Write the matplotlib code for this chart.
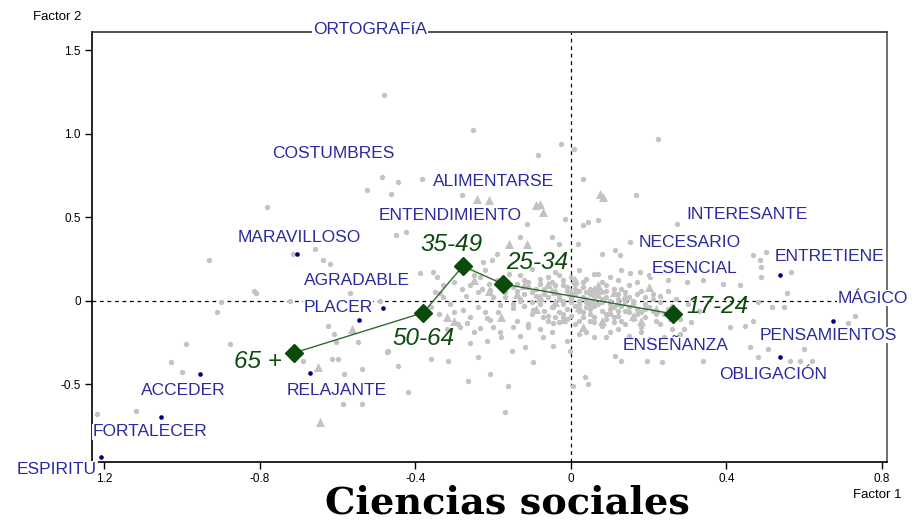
import matplotlib
matplotlib.use("Agg")
import matplotlib.pyplot as plt

# ---------------- data ----------------
# background words (grey dots)
bg_f1 = [-0.481, -0.486, -0.445, -0.383, -0.525, -0.463, -0.782, -0.45, -0.424, -0.931, -0.715, -0.658, -0.638, -0.62,
         -0.252, -0.026, -0.085, 0.008, 0.224, 0.031, 0.167, -0.015, 0.031, 0.044, 0.07, -0.13, -0.05, -0.03, 0.272, 0.018,
         0.152, 0.08, 0.126, 0.113, 0.468, 0.502, 0.486, 0.489, 0.566, 0.49, 0.556, 0.177, 0.152, 0.203, 0.39, 0.435, 0.339, 0.298,
         0.48, 0.516, 0.547, 0.73, 0.713, 0.468, 0.447, 0.46, 0.507, 0.48, 0.563, 0.59, 0.62, 0.60, 0.41, 0.34, 0.29, 0.234,
         0.195, 0.13, 0.113, 0.036, 0.044, 0.005,
         -0.445, -0.36, -0.316, -0.265, -0.42, -0.17, -0.162, -0.208, -0.24, -0.47, -0.097, -0.046, -0.003,
         -0.91, -0.99, -0.877, -1.03, -1.0, -1.22, -1.12, -0.625, -0.61, -0.605, -0.548, -0.473, -0.69, -0.615, -0.6,
         -0.584, -0.538, -0.586, -0.538,
         -0.815, -0.81, -0.90, -0.723, -0.568, -0.49, -0.28, -0.113, -0.19, -0.203, -0.227,
         -0.234, -0.208, -0.345, -0.337, -0.33, -0.388, -0.355,
         -0.152, -0.118, -0.072, -0.11, -0.149, -0.183, -0.216, -0.26, -0.285, -0.268, -0.234, -0.216, -0.278, -0.208,
         -0.188, -0.183, -0.149, -0.131, -0.098, -0.072, -0.046, -0.021, -0.046,
         -0.10, -0.04, 0.02, 0.06, -0.13,
         -0.12, -0.08, -0.05, -0.02, 0.01, 0.04, 0.08, 0.12, 0.15,
         -0.14, -0.11, -0.07, -0.04, -0.01, 0.02, 0.05, 0.08, 0.11, 0.14, 0.18, 0.21,
         -0.13, -0.09, -0.06, -0.03, 0.0, 0.03, 0.06, 0.09, 0.12, 0.16, 0.19, 0.23,
         -0.12, -0.08, -0.05, -0.02, 0.01, 0.04, 0.07, 0.10, 0.13, 0.17, 0.20, 0.25,
         -0.10, -0.06, -0.03, 0.0, 0.03, 0.06, 0.09, 0.12, 0.15, 0.19, 0.22, 0.28,
         -0.03, 0.01, 0.05, 0.08, 0.11, 0.14, 0.18, 0.23, 0.26,
         0.02, 0.06, 0.10, 0.15, 0.20, -0.01,
         -0.22, -0.25, -0.16, -0.19, -0.23, -0.30, -0.35, -0.27, -0.20, -0.17, -0.31,
         -0.02, 0.0, 0.02, 0.04, 0.06, 0.08, 0.10, 0.01, -0.01, 0.03, 0.05, 0.07, 0.09, -0.04, -0.07, -0.10, -0.08,
         -0.11, -0.14, -0.06, -0.03, 0.00, 0.03,
         -0.01, 0.02, 0.05, 0.08, 0.11, 0.14, 0.16, 0.18, 0.21, 0.24, 0.26, 0.22, 0.16, 0.13, 0.09, 0.06, 0.03,
         -0.01, -0.04, -0.07, -0.10, -0.15, -0.17,
         -0.15, -0.18, -0.21, -0.24, -0.26, -0.28, -0.33, -0.36, -0.34, -0.30, -0.26, -0.24, -0.22, -0.29, -0.32,
         -0.25, -0.20, -0.18, -0.13, -0.08, -0.05, -0.14, -0.11,
         0.12, 0.15, 0.17, 0.19, 0.21, 0.23, 0.25, 0.27, 0.30, 0.33, 0.31, 0.28, 0.24, 0.18, 0.12, 0.09, 0.04,
         0.25, 0.20, 0.17, 0.10, 0.07, 0.13,
         0.0, 0.02, 0.04, 0.06, 0.08, 0.10, 0.12, 0.14, 0.15, 0.17, 0.19, -0.03, -0.05, -0.02, 0.01, 0.04, 0.07,
         -0.09, -0.12, 0.11, 0.05, 0.02, -0.02, -0.06, 0.13, 0.09]
bg_f2 = [1.23, 0.74, 0.71, 0.73, 0.66, 0.64, 0.56, 0.39, 0.41, 0.24, 0.28, 0.31, 0.24, 0.22,
         1.02, 0.94, 0.87, 0.91, 0.97, 0.73, 0.63, 0.49, 0.45, 0.47, 0.48, 0.38, 0.38, 0.34, 0.46, 0.34,
         0.35, 0.28, 0.27, 0.30, 0.27, 0.29, 0.24, 0.20, 0.17, 0.14, 0.045, 0.17, 0.165, 0.14, 0.10, 0.09, 0.12, 0.11,
         -0.01, -0.04, -0.04, -0.09, -0.135, -0.12, -0.15, -0.28, -0.29, -0.34, -0.36, -0.36, -0.36, -0.29, -0.16, -0.36, -0.17, -0.37,
         -0.36, -0.36, -0.33, -0.46, -0.50, -0.51,
         -0.39, -0.35, -0.36, -0.48, -0.55, -0.67, -0.51, -0.44, -0.34, -0.30, -0.37, -0.27, -0.30,
         -0.07, -0.26, -0.26, -0.37, -0.43, -0.68, -0.66, -0.15, -0.20, -0.25, -0.25, -0.31, -0.36, -0.35, -0.35,
         -0.44, -0.41, -0.62, -0.62,
         0.06, 0.045, -0.01, 0.0, 0.045, 0.0, 0.63, 0.46, 0.28, 0.24, 0.23,
         0.14, 0.063, 0.14, 0.045, 0.093, 0.165, 0.17,
         -0.30, -0.28, -0.22, -0.16, -0.16, -0.19, -0.24, -0.255, -0.16, -0.135, -0.165, -0.105, -0.057, -0.117,
         -0.069, -0.027, -0.045, 0.0, -0.057, -0.099, -0.135, -0.099, -0.039,
         0.19, 0.17, 0.18, 0.16, 0.15,
         0.12, 0.13, 0.11, 0.12, 0.10, 0.13, 0.11, 0.12, 0.09,
         0.06, 0.08, 0.07, 0.05, 0.08, 0.06, 0.07, 0.05, 0.07, 0.05, 0.06, 0.04,
         0.01, 0.03, 0.02, 0.03, 0.01, 0.02, 0.0, 0.02, 0.01, 0.0, 0.02, -0.01,
         -0.03, -0.02, -0.04, -0.02, -0.03, -0.04, -0.02, -0.05, -0.03, -0.05, -0.04, -0.05,
         -0.08, -0.09, -0.07, -0.09, -0.07, -0.10, -0.08, -0.09, -0.07, -0.10, -0.08, -0.11,
         -0.13, -0.14, -0.12, -0.15, -0.13, -0.14, -0.16, -0.14, -0.17,
         -0.20, -0.22, -0.19, -0.21, -0.23, -0.24,
         0.18, 0.15, 0.16, 0.12, 0.07, 0.11, 0.05, 0.03, 0.02, 0.05, -0.02,
         0.0, -0.01, 0.0, 0.01, 0.03, -0.01, 0.0, 0.04, 0.06, 0.08, 0.04, 0.06, 0.09, 0.09, 0.04, 0.05, 0.10,
         0.11, 0.10, 0.14, 0.15, 0.14, 0.11,
         -0.05, -0.06, -0.05, -0.06, -0.04, -0.06, -0.02, -0.07, -0.06, -0.08, -0.03, -0.12, -0.11, -0.12, -0.11, -0.13, -0.10,
         -0.11, -0.10, -0.06, -0.01, -0.02, 0.02,
         0.08, 0.09, 0.10, 0.05, 0.09, 0.07, 0.02, -0.04, -0.08, -0.07, -0.10, -0.04, -0.07, -0.14, -0.17,
         -0.19, -0.16, -0.22, -0.21, -0.17, -0.19, -0.12, -0.14,
         0.04, 0.02, 0.04, -0.02, 0.01, 0.03, 0.06, 0.01, -0.02, -0.06, -0.13, -0.20, -0.22, -0.19, -0.17, -0.22, -0.19,
         0.12, 0.15, 0.11, 0.14, 0.16, 0.18,
         0.02, -0.02, -0.01, -0.03, 0.01, -0.02, -0.06, -0.01, -0.04, -0.08, -0.05, 0.01, 0.06, 0.09, 0.07, 0.05, 0.03,
         0.07, 0.04, -0.10, -0.08, -0.12, -0.08, -0.12, 0.07, 0.06]

# background words (grey triangles)
tri_f1 = [0.075, 0.082, -0.08, -0.072, -0.09, -0.242, -0.21, -0.16, -0.113, -0.563, -0.65, -0.645, -0.32, -0.30,
          -0.06, 0.0, 0.05, 0.10, -0.09, 0.14, -0.02, 0.07, -0.12, 0.18, 0.03, -0.25, -0.18, 0.20,
          0.02, 0.06, -0.04, 0.12, 0.16, -0.08, 0.08, 0.22, -0.14, -0.21, 0.01, -0.04, 0.26, 0.11]
tri_f2 = [0.64, 0.62, 0.58, 0.53, 0.57, 0.61, 0.60, 0.34, 0.34, -0.17, -0.40, -0.73, -0.10, -0.12,
          0.10, 0.05, -0.01, -0.07, -0.05, 0.03, -0.11, 0.09, 0.09, -0.12, -0.16, 0.12, -0.10, 0.08,
          -0.04, 0.07, -0.01, -0.01, -0.09, 0.02, -0.12, -0.05, 0.04, 0.06, 0.12, 0.06, -0.10, 0.05]

# highlighted words (navy dots)
word_pts = ["MARAVILLOSO", "PLACER", "AGRADABLE", "RELAJANTE", "ACCEDER", "FORTALECER",
            "ESPIRITU", "ENTRETIENE", "PENSAMIENTOS", "OBLIGACIÓN"]
word_f1 = [-0.705, -0.484, -0.545, -0.671, -0.954, -1.055, -1.21, 0.538, 0.675, 0.538]
word_f2 = [0.278, -0.045, -0.117, -0.432, -0.44, -0.70, -0.94, 0.153, -0.123, -0.336]

# word labels
labels = ["ORTOGRAFíA", "COSTUMBRES", "ALIMENTARSE", "ENTENDIMIENTO", "MARAVILLOSO", "AGRADABLE",
          "PLACER", "RELAJANTE", "ACCEDER", "FORTALECER", "ESPIRITU", "INTERESANTE", "NECESARIO",
          "ESENCIAL", "ENTRETIENE", "MÁGICO", "PENSAMIENTOS", "OBLIGACIÓN", "ENSEÑANZA"]
label_f1 = [-0.517, -0.61, -0.198, -0.311, -0.70, -0.55, -0.599, -0.602, -0.998, -1.083, -1.322,
            0.453, 0.306, 0.319, 0.666, 0.777, 0.661, 0.52, 0.27]
label_f2 = [1.625, 0.883, 0.71, 0.512, 0.38, 0.117, -0.039, -0.536, -0.536, -0.787, -1.01,
            0.518, 0.35, 0.189, 0.266, 0.015, -0.207, -0.446, -0.272]

# age groups
ages = ["65 +", "50-64", "35-49", "25-34", "17-24"]
age_f1 = [-0.713, -0.38, -0.278, -0.175, 0.263]
age_f2 = [-0.314, -0.073, 0.206, 0.099, -0.08]
age_lab_f1 = [-0.805, -0.378, -0.307, -0.088, 0.377]
age_lab_f2 = [-0.365, -0.225, 0.337, 0.226, -0.034]

x_ticks = [-1.2, -0.8, -0.4, 0, 0.4, 0.8]
x_ticklabels = ["1.2", "-0.8", "-0.4", "0", "0.4", "0.8"]
y_ticks = [-0.5, 0, 0.5, 1.0, 1.5]
y_ticklabels = ["-0.5", "0", "0.5", "1.0", "1.5"]

title = "Ciencias sociales"

# ---------------- plot ----------------
plt.rcParams['font.family'] = ['Liberation Sans', 'DejaVu Sans']
fig = plt.figure(figsize=(9.18, 5.25), dpi=100)
ax = fig.add_axes([92 / 918, 1 - 462 / 525, (887 - 92) / 918, (462 - 32) / 525])
ax.set_xlim(-1.232, 0.813)
ax.set_ylim(-0.967, 1.608)

ax.axhline(0, color='black', lw=0.9, ls=(0, (3, 3)), zorder=1)
ax.axvline(0, color='black', lw=0.9, ls=(0, (3, 3)), zorder=1)

ax.scatter(bg_f1, bg_f2, s=15, marker='o', color='#c3c3c3', linewidths=0, zorder=2)
ax.scatter(tri_f1, tri_f2, s=42, marker='^', color='#c3c3c3', linewidths=0, zorder=2)
ax.scatter(word_f1, word_f2, s=11, marker='o', color='#000080', linewidths=0, zorder=3)

ax.plot(age_f1, age_f2, color='#2f6a2f', lw=1.0, zorder=4)
ax.plot(age_f1, age_f2, ls='none', marker='D', ms=9, color='#0a4a0a', zorder=5)

for t, x, y in zip(labels, label_f1, label_f2):
    ax.text(x, y, t, ha='center', va='center', fontsize=12.5, color='#2a2aa0',
            bbox=dict(facecolor='white', edgecolor='none', pad=0.5), clip_on=False, zorder=6)

for t, x, y in zip(ages, age_lab_f1, age_lab_f2):
    ax.text(x, y, t, ha='center', va='center', fontsize=17.5, style='italic', color='#0d4a0d',
            clip_on=False, zorder=6)

ax.set_xticks(x_ticks)
ax.set_xticklabels(x_ticklabels)
ax.set_yticks(y_ticks)
ax.set_yticklabels(y_ticklabels)
ax.tick_params(direction='out', length=5, width=1, labelsize=8.5, pad=3)
for sp in ax.spines.values():
    sp.set_linewidth(1.2)
ax.spines['right'].set_color('#555555')
ax.spines['top'].set_color('#333333')

fig.text(57 / 918, 1 - 17 / 525, "Factor 2", ha='center', va='center', fontsize=9.5)
fig.text(877 / 918, 1 - 495 / 525, "Factor 1", ha='center', va='center', fontsize=9.5)

fig.text(507 / 918, 1 - 503 / 525, title, ha='center', va='center', fontsize=27.5,
         fontweight='bold', family='DejaVu Serif')

fig.savefig("out.png", dpi=100)
